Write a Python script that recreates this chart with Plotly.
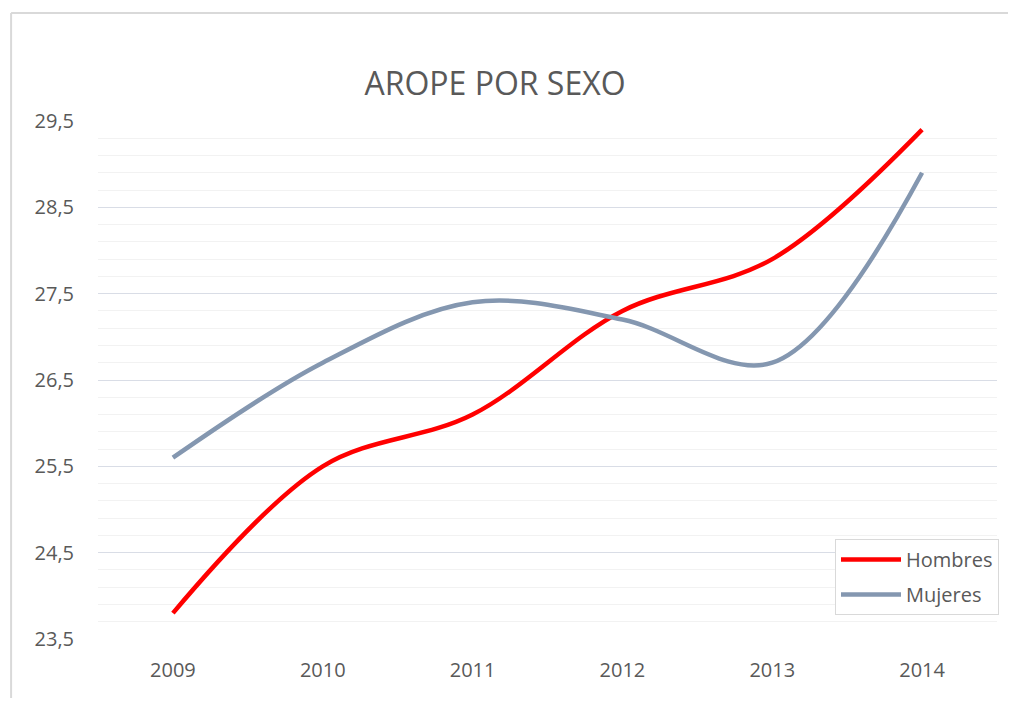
import plotly.graph_objects as go

years = ["2009", "2010", "2011", "2012", "2013", "2014"]
hombres = [23.8, 25.5, 26.1, 27.3, 27.9, 29.4]
mujeres = [25.6, 26.7, 27.4, 27.2, 26.7, 28.9]

text_color = "#595959"
font_family = "Open Sans, Liberation Sans, sans-serif"

# page offset (body margin) is 8px
W, H = 1000, 690
L, T = 90, 113
PW, PH = 900, 518

fig = go.Figure()
fig.add_trace(go.Scatter(x=years, y=hombres, name="Hombres", mode="lines", legendgroup="h",
                         line=dict(color="#ff0000", width=4.5, shape="spline", smoothing=1)))
fig.add_trace(go.Scatter(x=years, y=mujeres, name="Mujeres", mode="lines", legendgroup="m",
                         line=dict(color="#8497b0", width=4.5, shape="spline", smoothing=1)))

def px_x(p):
    return (p - 8 - L) / PW

def px_y(p):
    return (T + PH - (p - 8)) / PH

fig.update_layout(
    width=W, height=H,
    margin=dict(l=L, r=W - L - PW, t=T, b=H - T - PH),
    paper_bgcolor="white", plot_bgcolor="white",
    separators=",.",
    font=dict(family=font_family, color=text_color, size=20),
    title=dict(text="AROPE POR SEXO", x=(495 - 8) / W, xref="container", xanchor="center",
               y=1 - (84 - 8) / H, yref="container", yanchor="middle",
               font=dict(size=32, color=text_color, family=font_family)),
    showlegend=True,
    legend=dict(x=px_x(999), y=px_y(539), xanchor="right", yanchor="top",
                bgcolor="white", bordercolor="#d9d9d9", borderwidth=1,
                font=dict(size=20, color=text_color), itemwidth=60,
                traceorder="grouped", tracegroupgap=6),
    shapes=[
        dict(type="line", xref="paper", yref="paper", x0=px_x(11), x1=1.2,
             y0=px_y(13), y1=px_y(13), line=dict(color="#d9d9d9", width=2)),
        dict(type="line", xref="paper", yref="paper", x0=px_x(11), x1=px_x(11),
             y0=px_y(13), y1=-0.3, line=dict(color="#d9d9d9", width=2)),
    ],
)

fig.update_xaxes(type="category", range=[-0.5, 5.5], showgrid=False, showline=False,
                 zeroline=False, ticks="outside", ticklen=13, tickcolor="rgba(0,0,0,0)",
                 tickfont=dict(size=20, color=text_color))
fig.update_yaxes(range=[23.5, 29.5], tick0=23.5, dtick=1, tickformat=".1f",
                 showgrid=True, gridcolor="#d9dde6", gridwidth=1, zeroline=False,
                 showline=False, ticks="outside", ticklen=19, tickcolor="rgba(0,0,0,0)",
                 tickfont=dict(size=20, color=text_color),
                 minor=dict(dtick=0.2, tick0=23.5, showgrid=True, gridcolor="#f2f2f2", gridwidth=1))

fig.write_html("out.html")
